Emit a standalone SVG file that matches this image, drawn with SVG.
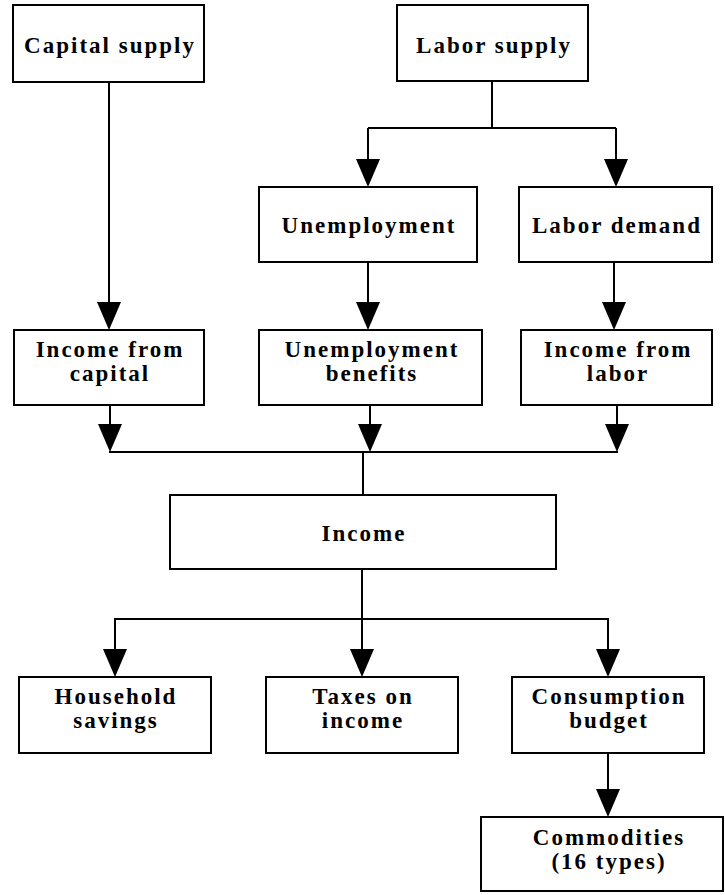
<svg xmlns="http://www.w3.org/2000/svg" width="725" height="895" viewBox="0 0 725 895">
<defs>
<style>
.box{fill:#fff;stroke:#000;stroke-width:2}
.t{font-family:"Liberation Serif","Times New Roman",serif;font-weight:bold;font-size:23px;letter-spacing:2px;text-anchor:middle;fill:#000}
.c{fill:none;stroke:#000;stroke-width:2}
.ah{fill:#000;stroke:none}
</style>
</defs>
<rect width="725" height="895" fill="#fff"/>
<g id="connectors">
<path class="c" d="M109,82 V304"/>
<path class="c" d="M492,81 V128 M368,128 H616"/>
<path class="c" d="M368,128 V160"/>
<path class="c" d="M616,128 V160"/>
<path class="c" d="M368,262 V304"/>
<path class="c" d="M614,262 V304"/>
<path class="c" d="M110,405 V426"/>
<path class="c" d="M370,405 V426"/>
<path class="c" d="M617,405 V426"/>
<path class="c" d="M109,452 H618 M363,452 V495"/>
<path class="c" d="M362,569 V619 M114,619 H609"/>
<path class="c" d="M115,619 V650"/>
<path class="c" d="M362,619 V650"/>
<path class="c" d="M608,619 V650"/>
<path class="c" d="M608,753 V790"/>
<path class="ah" d="M97,302 L121,302 L109,330 Z"/>
<path class="ah" d="M356,159 L380,159 L368,187 Z"/>
<path class="ah" d="M604,159 L628,159 L616,187 Z"/>
<path class="ah" d="M356,302 L380,302 L368,330 Z"/>
<path class="ah" d="M602,302 L626,302 L614,330 Z"/>
<path class="ah" d="M98,424 L122,424 L110,452 Z"/>
<path class="ah" d="M358,424 L382,424 L370,452 Z"/>
<path class="ah" d="M605,424 L629,424 L617,452 Z"/>
<path class="ah" d="M103,649 L127,649 L115,677 Z"/>
<path class="ah" d="M350,649 L374,649 L362,677 Z"/>
<path class="ah" d="M596,649 L620,649 L608,677 Z"/>
<path class="ah" d="M596,789 L620,789 L608,817 Z"/>
</g>
<g id="capital-supply"><rect class="box" x="13" y="5" width="191" height="77"/><text class="t" x="110" y="53">Capital supply</text></g>
<g id="labor-supply"><rect class="box" x="397" y="5" width="191" height="76"/><text class="t" x="494" y="53">Labor supply</text></g>
<g id="unemployment"><rect class="box" x="259" y="187" width="218" height="75"/><text class="t" x="369" y="233">Unemployment</text></g>
<g id="labor-demand"><rect class="box" x="519" y="187" width="193" height="75"/><text class="t" x="617" y="233">Labor demand</text></g>
<g id="income-from-capital"><rect class="box" x="14" y="330" width="190" height="75"/><text class="t" x="110" y="357">Income from</text><text class="t" x="110" y="381">capital</text></g>
<g id="unemployment-benefits"><rect class="box" x="259" y="330" width="223" height="75"/><text class="t" x="372" y="357">Unemployment</text><text class="t" x="372" y="381">benefits</text></g>
<g id="income-from-labor"><rect class="box" x="521" y="330" width="191" height="75"/><text class="t" x="618" y="357">Income from</text><text class="t" x="618" y="381">labor</text></g>
<g id="income"><rect class="box" x="170" y="495" width="386" height="74"/><text class="t" x="364" y="541">Income</text></g>
<g id="household-savings"><rect class="box" x="19" y="677" width="192" height="76"/><text class="t" x="116" y="704">Household</text><text class="t" x="116" y="728">savings</text></g>
<g id="taxes-on-income"><rect class="box" x="266" y="677" width="192" height="76"/><text class="t" x="363" y="704">Taxes on</text><text class="t" x="363" y="728">income</text></g>
<g id="consumption-budget"><rect class="box" x="512" y="677" width="192" height="76"/><text class="t" x="609" y="704">Consumption</text><text class="t" x="609" y="728">budget</text></g>
<g id="commodities"><rect class="box" x="481" y="817" width="242" height="74"/><text class="t" x="609" y="845">Commodities</text><text class="t" x="609" y="869">(16 types)</text></g>
</svg>
